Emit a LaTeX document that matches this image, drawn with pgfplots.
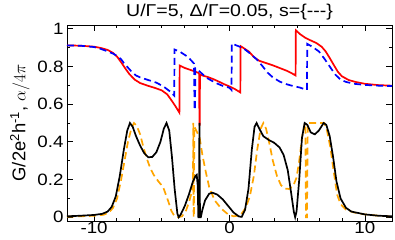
\documentclass[border=0pt]{standalone}
\usepackage{pgfplots}
\pgfplotsset{compat=1.18}
\usepackage{fontspec}
\setmainfont{Liberation Sans}[FakeStretch=1.14]
\newfontfamily\labelfont{Liberation Sans}
\usetikzlibrary{calc}
\definecolor{myorange}{RGB}{255,165,0}
\definecolor{myblue}{RGB}{0,0,255}
\definecolor{myred}{RGB}{255,0,0}
\begin{document}
\begin{tikzpicture}
\begin{axis}[name=ax,
  width=325bp, height=196bp, scale only axis,
  xmin=-12, xmax=12, ymin=-0.02, ymax=1.02,
  xtick={-10,0,10}, xticklabels={-10,0,10},
  ytick={0,0.2,0.4,0.6,0.8,1}, yticklabels={0,0.2,0.4,0.6,0.8,1},
  minor x tick num=5, minor y tick num=1,
  tick align=inside,
  major tick length=6bp, minor tick length=3bp,
  every tick/.style={black, line width=0.7bp},
  axis line style={line width=0.8bp},
  ticklabel style={font=\fontsize{16.5}{19}\selectfont},
  xticklabel style={yshift=2bp},
  every axis title shift=0pt,
  title={U/Γ=5, Δ/Γ=0.05, s=\{-{}-{}-\}},
  title style={font=\fontsize{17.2}{20}\selectfont, at={(axis description cs:0.5,1)}, anchor=base, yshift=8bp, inner sep=0pt},
  ylabel={\labelfont G/2e\textsuperscript{2}h\textsuperscript{-1}, $\alpha/4\pi$},
  ylabel style={font=\fontsize{18.5}{21}\selectfont, at={(axis description cs:-0.1446,0.5)}, anchor=center},
]
% red solid (upper)
\addplot[myred, line width=1.7bp] coordinates {
(-12,0.912) (-11,0.910) (-10,0.905) (-9.5,0.898) (-9,0.888) (-8.6,0.872) (-8.3,0.852)
(-8.0,0.822) (-7.7,0.790) (-7.4,0.760) (-7.0,0.730) (-6.6,0.712) (-6.0,0.697) (-5.5,0.686)
(-5.0,0.673) (-4.6,0.652) (-4.3,0.622) (-4.0,0.590) (-3.7,0.555)
(-3.68,0.805) (-3.3,0.792) (-2.9,0.782) (-2.5,0.772) (-2.28,0.765)
(-2.24,0.76) (-2.22,0.49) (-2.20,0.49) (-2.18,0.758)
(-2.0,0.752) (-1.6,0.744) (-1.2,0.733) (-0.8,0.720) (-0.4,0.706) (0,0.694) (0.4,0.680) (0.8,0.662)
(0.82,0.908) (1.1,0.895) (1.45,0.878) (1.8,0.850) (2.2,0.830) (2.7,0.818) (3.2,0.806)
(3.7,0.792) (4.2,0.778) (4.6,0.764) (4.88,0.752)
(4.9,0.992) (5.2,0.972) (5.6,0.952) (6.0,0.938) (6.4,0.925) (6.8,0.905) (7.1,0.880)
(7.4,0.845) (7.7,0.808) (8.0,0.772) (8.3,0.748) (8.8,0.728) (9.3,0.718) (10,0.708)
(11,0.701) (12,0.698)
};
% blue dashed (upper)
\addplot[myblue, line width=1.7bp, dash pattern=on 7bp off 4bp] coordinates {
(-12,0.912) (-11,0.910) (-10,0.903) (-9.5,0.893) (-9,0.880) (-8.6,0.868) (-8.3,0.856)
(-8.0,0.838) (-7.8,0.818) (-7.55,0.798) (-7.2,0.770) (-6.9,0.752) (-6.6,0.742) (-6.0,0.728)
(-5.4,0.714) (-4.9,0.695) (-4.4,0.668) (-4.08,0.645)
(-4.06,0.890) (-3.7,0.880) (-3.4,0.866) (-3.1,0.852) (-2.8,0.830) (-2.62,0.815)
(-2.58,0.57) (-2.55,0.57) (-2.52,0.790) (-2.2,0.773) (-1.7,0.740) (-1.0,0.712) (-0.5,0.697)
(0,0.687) (0.15,0.675)
(0.17,0.922) (0.5,0.912) (1.0,0.898) (1.5,0.870) (2.0,0.838) (2.4,0.805) (2.8,0.768)
(3.2,0.742) (3.7,0.720) (4.2,0.706) (4.7,0.696) (5.2,0.688) (5.72,0.675)
(5.74,0.920) (6.1,0.905) (6.6,0.880) (7.0,0.842) (7.4,0.800) (7.8,0.758) (8.2,0.730)
(8.6,0.718) (9.2,0.708) (10,0.702) (11,0.698) (12,0.696)
};
% orange dashed (lower)
\addplot[myorange, line width=1.7bp, dash pattern=on 7bp off 4bp] coordinates {
(-12,0.003) (-11,0.005) (-10,0.008) (-9.3,0.013) (-8.9,0.025) (-8.6,0.05) (-8.3,0.1)
(-8.0,0.2) (-7.75,0.3) (-7.5,0.4) (-7.25,0.47) (-7.05,0.50) (-6.85,0.485) (-6.6,0.44)
(-6.35,0.37) (-6.1,0.31) (-5.85,0.26) (-5.6,0.225) (-5.25,0.19) (-4.9,0.16) (-4.7,0.12)
(-4.5,0.08) (-4.3,0.035) (-4.1,0.01) (-3.8,0.0) (-3.5,0.005) (-3.2,0.037) (-2.95,0.09)
(-2.8,0.13) (-2.7,0.2) (-2.67,0.5) (-2.65,0.0) (-2.63,0.0) (-2.6,0.48) (-2.45,0.46)
(-2.2,0.42) (-2.0,0.33) (-1.75,0.24) (-1.5,0.16) (-1.1,0.09) (-0.6,0.045) (-0.1,0.015)
(0.3,0.005) (0.8,0.01) (1.2,0.05) (1.5,0.11) (1.8,0.22) (2.05,0.36) (2.3,0.47) (2.5,0.50)
(2.7,0.47) (2.95,0.39) (3.2,0.30) (3.5,0.22) (3.8,0.17) (4.1,0.152) (4.4,0.15) (4.7,0.165)
(4.95,0.21) (5.15,0.3) (5.35,0.42) (5.5,0.48) (5.6,0.5) (5.65,0.0) (5.72,0.0) (5.78,0.5)
(6.0,0.50) (6.5,0.50) (7.0,0.50) (7.2,0.46) (7.45,0.37) (7.7,0.24) (7.95,0.12) (8.2,0.07)
(8.6,0.04) (9.2,0.025) (10,0.015) (11,0.008) (12,0.004)
};
% black solid (lower)
\addplot[black, line width=1.7bp] coordinates {
(-12,0.005) (-11,0.008) (-10,0.012) (-9.4,0.018) (-9.0,0.03) (-8.7,0.055) (-8.4,0.11)
(-8.1,0.22) (-7.8,0.36) (-7.55,0.46) (-7.35,0.50) (-7.15,0.48) (-6.9,0.43) (-6.6,0.38)
(-6.3,0.34) (-6.0,0.318) (-5.7,0.32) (-5.4,0.345) (-5.1,0.40) (-4.85,0.47) (-4.65,0.50)
(-4.45,0.46) (-4.25,0.32) (-4.05,0.15) (-3.85,0.02) (-3.75,0.0) (-3.6,0.015) (-3.3,0.06)
(-3.0,0.12) (-2.7,0.19) (-2.5,0.22) (-2.42,0.225) (-2.35,0.17) (-2.3,0.0) (-2.26,0.0)
(-2.22,0.50) (-2.18,0.0) (-2.12,0.0) (-2.0,0.04) (-1.8,0.09) (-1.5,0.125) (-1.25,0.13)
(-0.9,0.12) (-0.5,0.095) (-0.1,0.06) (0.3,0.025) (0.7,0.004) (0.9,0.002) (1.15,0.04)
(1.4,0.15) (1.65,0.36) (1.85,0.48) (2.0,0.50) (2.2,0.47) (2.5,0.43) (2.9,0.41) (3.3,0.395)
(3.7,0.37) (4.0,0.33) (4.3,0.25) (4.55,0.13) (4.75,0.03) (4.85,0.0) (4.95,0.03) (5.15,0.2)
(5.35,0.42) (5.55,0.50) (5.75,0.49) (6.0,0.45) (6.3,0.44) (6.6,0.46) (6.95,0.50) (7.15,0.49)
(7.4,0.43) (7.65,0.32) (7.9,0.19) (8.2,0.1) (8.6,0.05) (9.0,0.03) (10,0.015) (11,0.008)
(12,0.005)
};
\end{axis}
\pgfresetboundingbox
\path ($(ax.south west)+(-67bp,-19bp)$) rectangle ($(ax.north east)+(3bp,25bp)$);
\end{tikzpicture}
\end{document}
